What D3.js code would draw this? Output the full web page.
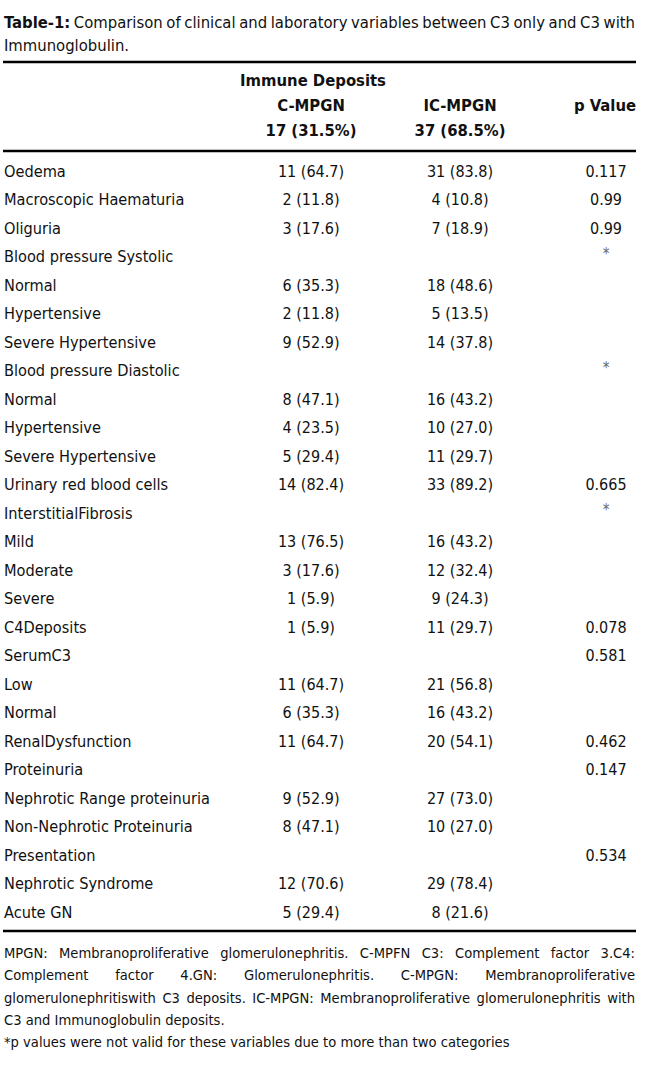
<!DOCTYPE html>
<html>
<head>
<meta charset="utf-8">
<script src="https://cdn.jsdelivr.net/npm/d3@7"></script>
<style>
  html, body { margin: 0; padding: 0; background: #fff; }
  svg { display: block; }
</style>
</head>
<body>
<svg id="chart" width="650" height="1073"></svg>
<script>
// ---------- data ----------
const titleBold = "Table-1:";
const titleLine1 = "Comparison of clinical and laboratory variables between C3 only and C3 with";
const titleLine2 = "Immunoglobulin.";

const groupHeader = "Immune Deposits";
const columnHeaders = ["C-MPGN", "IC-MPGN", "p Value"];
const columnCounts = ["17 (31.5%)", "37 (68.5%)", ""];

const rowLabels = [
  "Oedema", "Macroscopic Haematuria", "Oliguria", "Blood pressure Systolic",
  "Normal", "Hypertensive", "Severe Hypertensive", "Blood pressure Diastolic",
  "Normal", "Hypertensive", "Severe Hypertensive", "Urinary red blood cells",
  "InterstitialFibrosis", "Mild", "Moderate", "Severe", "C4Deposits", "SerumC3",
  "Low", "Normal", "RenalDysfunction", "Proteinuria",
  "Nephrotic Range proteinuria", "Non-Nephrotic Proteinuria", "Presentation",
  "Nephrotic Syndrome", "Acute GN"
];
const cmpgnValues = [
  "11 (64.7)", "2 (11.8)", "3 (17.6)", "",
  "6 (35.3)", "2 (11.8)", "9 (52.9)", "",
  "8 (47.1)", "4 (23.5)", "5 (29.4)", "14 (82.4)",
  "", "13 (76.5)", "3 (17.6)", "1 (5.9)", "1 (5.9)", "",
  "11 (64.7)", "6 (35.3)", "11 (64.7)", "",
  "9 (52.9)", "8 (47.1)", "",
  "12 (70.6)", "5 (29.4)"
];
const icmpgnValues = [
  "31 (83.8)", "4 (10.8)", "7 (18.9)", "",
  "18 (48.6)", "5 (13.5)", "14 (37.8)", "",
  "16 (43.2)", "10 (27.0)", "11 (29.7)", "33 (89.2)",
  "", "16 (43.2)", "12 (32.4)", "9 (24.3)", "11 (29.7)", "",
  "21 (56.8)", "16 (43.2)", "20 (54.1)", "",
  "27 (73.0)", "10 (27.0)", "",
  "29 (78.4)", "8 (21.6)"
];
const pValues = [
  "0.117", "0.99", "0.99", "*",
  "", "", "", "*",
  "", "", "", "0.665",
  "*", "", "", "", "0.078", "0.581",
  "", "", "0.462", "0.147",
  "", "", "0.534",
  "", ""
];

const footJustified = [
  "MPGN: Membranoproliferative glomerulonephritis. C-MPFN C3: Complement factor 3.C4:",
  "Complement factor 4.GN: Glomerulonephritis. C-MPGN: Membranoproliferative",
  "glomerulonephritiswith C3 deposits. IC-MPGN: Membranoproliferative glomerulonephritis with"
];
const footLeft = [
  "C3 and Immunoglobulin deposits.",
  "*p values were not valid for these variables due to more than two categories"
];

// ---------- layout ----------
const FONT = "'Liberation Sans Narrow', 'DejaVu Sans Condensed', 'Arial Narrow', sans-serif";
const svg = d3.select("#chart");
const left = 4, right = 635;

const colX = d3.scaleOrdinal().domain(["label", "c", "ic", "p"]).range([left, 311, 460, 606]);
const rowY = d3.scalePoint().domain(d3.range(rowLabels.length)).range([171, 912]);

// justify helper: places words so the line fills [x0, x1]
function justifyLine(g, words, y, x0, x1, style, boldFirst) {
  const t = g.append("text").attr("y", y).attr("dy", "0.35em")
    .style("font-family", FONT).style("font-size", style.size + "px")
    .style("letter-spacing", (style.ls || 0) + "px").attr("fill", "#111");
  const spans = words.map((w, i) => t.append("tspan").text(w)
      .style("font-weight", (boldFirst && i === 0) ? "bold" : "normal"));
  const widths = spans.map(s => s.node().getComputedTextLength());
  const total = d3.sum(widths);
  const gap = words.length > 1 ? (x1 - x0 - total) / (words.length - 1) : 0;
  let x = x0;
  spans.forEach((s, i) => { s.attr("x", x); x += widths[i] + gap; });
}

// title
const gTitle = svg.append("g");
justifyLine(gTitle, [titleBold].concat(titleLine1.split(" ")), 22, left, right, {size: 16.5}, true);
gTitle.append("text").attr("x", left).attr("y", 45).attr("dy", "0.35em")
  .style("font-family", FONT).style("font-size", "16.5px").attr("fill", "#111")
  .text(titleLine2);

// rules
const rules = [62, 151, 931];
svg.append("g").selectAll("line").data(rules).join("line")
  .attr("x1", 3).attr("x2", 636).attr("y1", d => d).attr("y2", d => d)
  .attr("stroke", "#000").attr("stroke-width", 2.6);

// header
const gHead = svg.append("g").style("font-family", FONT).style("font-weight", "bold")
  .style("font-size", "16.5px").attr("fill", "#111").attr("text-anchor", "middle");
gHead.append("text").attr("x", 313).attr("y", 80).attr("dy", "0.35em").text(groupHeader);
gHead.selectAll("text.colh").data(columnHeaders).join("text").attr("class", "colh")
  .attr("x", (d, i) => i === 2 ? 605 : colX(["c", "ic"][i]))
  .attr("y", 105).attr("dy", "0.35em").text(d => d);
gHead.selectAll("text.cnt").data(columnCounts).join("text").attr("class", "cnt")
  .attr("x", (d, i) => colX(["c", "ic", "p"][i]))
  .attr("y", 130).attr("dy", "0.35em").text(d => d);

// body rows
const body = svg.append("g").style("font-family", FONT).style("font-size", "16.2px").attr("fill", "#111");
body.selectAll("text.lab").data(rowLabels).join("text").attr("class", "lab")
  .attr("x", colX("label")).attr("y", (d, i) => rowY(i)).attr("dy", "0.35em")
  .text(d => d);
body.selectAll("text.cv").data(cmpgnValues).join("text").attr("class", "cv")
  .attr("x", colX("c")).attr("y", (d, i) => rowY(i)).attr("dy", "0.35em")
  .attr("text-anchor", "middle").style("font-size", "16px").text(d => d);
body.selectAll("text.iv").data(icmpgnValues).join("text").attr("class", "iv")
  .attr("x", colX("ic")).attr("y", (d, i) => rowY(i)).attr("dy", "0.35em")
  .attr("text-anchor", "middle").style("font-size", "16px").text(d => d);
body.selectAll("text.pv").data(pValues).join("text").attr("class", "pv")
  .attr("x", colX("p")).attr("y", (d, i) => rowY(i) - (d === "*" ? 3 : 0)).attr("dy", "0.35em")
  .attr("text-anchor", "middle")
  .style("font-size", d => d === "*" ? "15px" : "16px")
  .attr("fill", d => d === "*" ? "#666" : "#111")
  .text(d => d);

// footnote
const gFoot = svg.append("g");
const footY = d3.scalePoint().domain(d3.range(5)).range([953, 1042]);
footJustified.forEach((line, i) => justifyLine(gFoot, line.split(" "), footY(i), left, right, {size: 14.6}, false));
gFoot.selectAll("text.fl").data(footLeft).join("text").attr("class", "fl")
  .attr("x", left).attr("y", (d, i) => footY(i + 3)).attr("dy", "0.35em")
  .style("font-family", FONT).style("font-size", "14.6px").attr("fill", "#111")
  .text(d => d);
</script>
</body>
</html>
